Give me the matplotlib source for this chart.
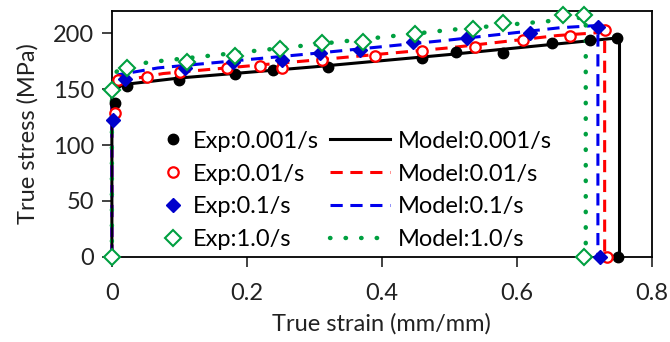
import matplotlib.pyplot as plt

plt.rcParams['font.family'] = ['Lato', 'DejaVu Sans']

rates = ['0.001/s', '0.01/s', '0.1/s', '1.0/s']

# experimental points
exp_x_001 = [0.004, 0.022, 0.10, 0.182, 0.239, 0.32, 0.46, 0.51, 0.58, 0.652, 0.708, 0.748, 0.75]
exp_y_001 = [138, 153, 158, 164, 167, 170, 178, 183, 182, 191, 194, 196, 0]
exp_x_01 = [0.004, 0.009, 0.052, 0.101, 0.170, 0.219, 0.252, 0.311, 0.390, 0.459, 0.538, 0.609, 0.679, 0.730, 0.733]
exp_y_01 = [129, 158, 161, 165, 169, 171, 169, 176, 180, 184, 188, 194, 198, 203, 0]
exp_x_1 = [0.002, 0.019, 0.108, 0.179, 0.252, 0.308, 0.367, 0.446, 0.526, 0.619, 0.720, 0.723]
exp_y_1 = [122, 159, 169, 174, 176, 182, 185, 192, 196, 200, 206, 0]
exp_x_10 = [0.0, 0.0, 0.022, 0.111, 0.182, 0.249, 0.311, 0.372, 0.449, 0.535, 0.579, 0.668, 0.700, 0.700]
exp_y_10 = [0, 149, 169, 174, 180, 186, 191, 192, 199, 204, 209, 216, 216, 0]

# model curves
mod_x_001 = [0, 0, 0.015, 0.1, 0.3, 0.5, 0.752, 0.752]
mod_y_001 = [0, 146, 154, 160, 170, 181, 196, 0]
mod_x_01 = [0, 0, 0.01, 0.076, 0.3, 0.5, 0.66, 0.730, 0.730]
mod_y_01 = [0, 150, 157, 164, 176, 187, 198, 201, 0]
mod_x_1 = [0, 0, 0.01, 0.068, 0.3, 0.5, 0.664, 0.720, 0.720]
mod_y_1 = [0, 155, 163, 169, 182, 194, 205, 207, 0]
mod_x_10 = [0, 0, 0.01, 0.053, 0.3, 0.5, 0.686, 0.702, 0.702]
mod_y_10 = [0, 160, 168, 174, 190, 203, 213, 215, 0]

fig = plt.figure(figsize=(6.7, 3.42), dpi=100)
ax = fig.add_axes([0.167, 0.249, 0.806, 0.719])

m1, = ax.plot(mod_x_001, mod_y_001, color='black', lw=2.2, zorder=2, clip_on=False)
m2, = ax.plot(mod_x_01, mod_y_01, color='#ff0000', lw=2.2, ls=(0, (4, 2.5)), zorder=2, clip_on=False)
m3, = ax.plot(mod_x_1, mod_y_1, color='#0000ee', lw=2.2, ls=(0, (4, 2.5)), zorder=2, clip_on=False)
m4, = ax.plot(mod_x_10, mod_y_10, color='#00a040', lw=3.2, ls=(0, (0.1, 3.4)),
              dash_capstyle='round', zorder=2, clip_on=False)

e1, = ax.plot(exp_x_001, exp_y_001, 'o', color='black', ms=7.5, ls='none', zorder=3, clip_on=False)
e2, = ax.plot(exp_x_01, exp_y_01, 'o', mfc='white', mec='#ff0000', mew=1.6, ms=7.5, ls='none',
              zorder=4, clip_on=False)
e3, = ax.plot(exp_x_1, exp_y_1, 'D', color='#0000cc', ms=7, ls='none', zorder=5, clip_on=False)
e4, = ax.plot(exp_x_10, exp_y_10, 'D', mfc='white', mec='#00a040', mew=1.5, ms=8, ls='none',
              zorder=6, clip_on=False)

ax.set_xlim(0, 0.8)
ax.set_ylim(0, 220)
ax.set_xticks([0, 0.2, 0.4, 0.6, 0.8])
ax.set_xticklabels(['0', '0.2', '0.4', '0.6', '0.8'])
ax.set_yticks([0, 50, 100, 150, 200])
ax.tick_params(direction='out', length=7, width=1.2, labelsize=17, colors='#222222')
ax.tick_params(axis='x', pad=12)
ax.tick_params(axis='y', pad=6)
for s in ax.spines.values():
    s.set_linewidth(1.3)
    s.set_color('black')

ax.set_xlabel('True strain (mm/mm)', fontsize=17, color='#222222', labelpad=6)
ax.set_ylabel('True stress (MPa)', fontsize=17, color='#222222', labelpad=10)

leg1 = ax.legend([e1, e2, e3, e4], ['Exp:' + r for r in rates], loc='lower left',
                 bbox_to_anchor=(0.08, 0.008), frameon=False, fontsize=17, borderaxespad=0,
                 handlelength=1.13, handletextpad=0.28, labelspacing=0.5, borderpad=0.2)
ax.add_artist(leg1)
ax.legend([m1, m2, m3, m4], ['Model:' + r for r in rates], loc='lower left',
          bbox_to_anchor=(0.395, 0.008), frameon=False, fontsize=17, borderaxespad=0,
          handlelength=2.54, handletextpad=0.34, labelspacing=0.5, borderpad=0.2)

fig.savefig('out.png', dpi=100)
plt.close(fig)
